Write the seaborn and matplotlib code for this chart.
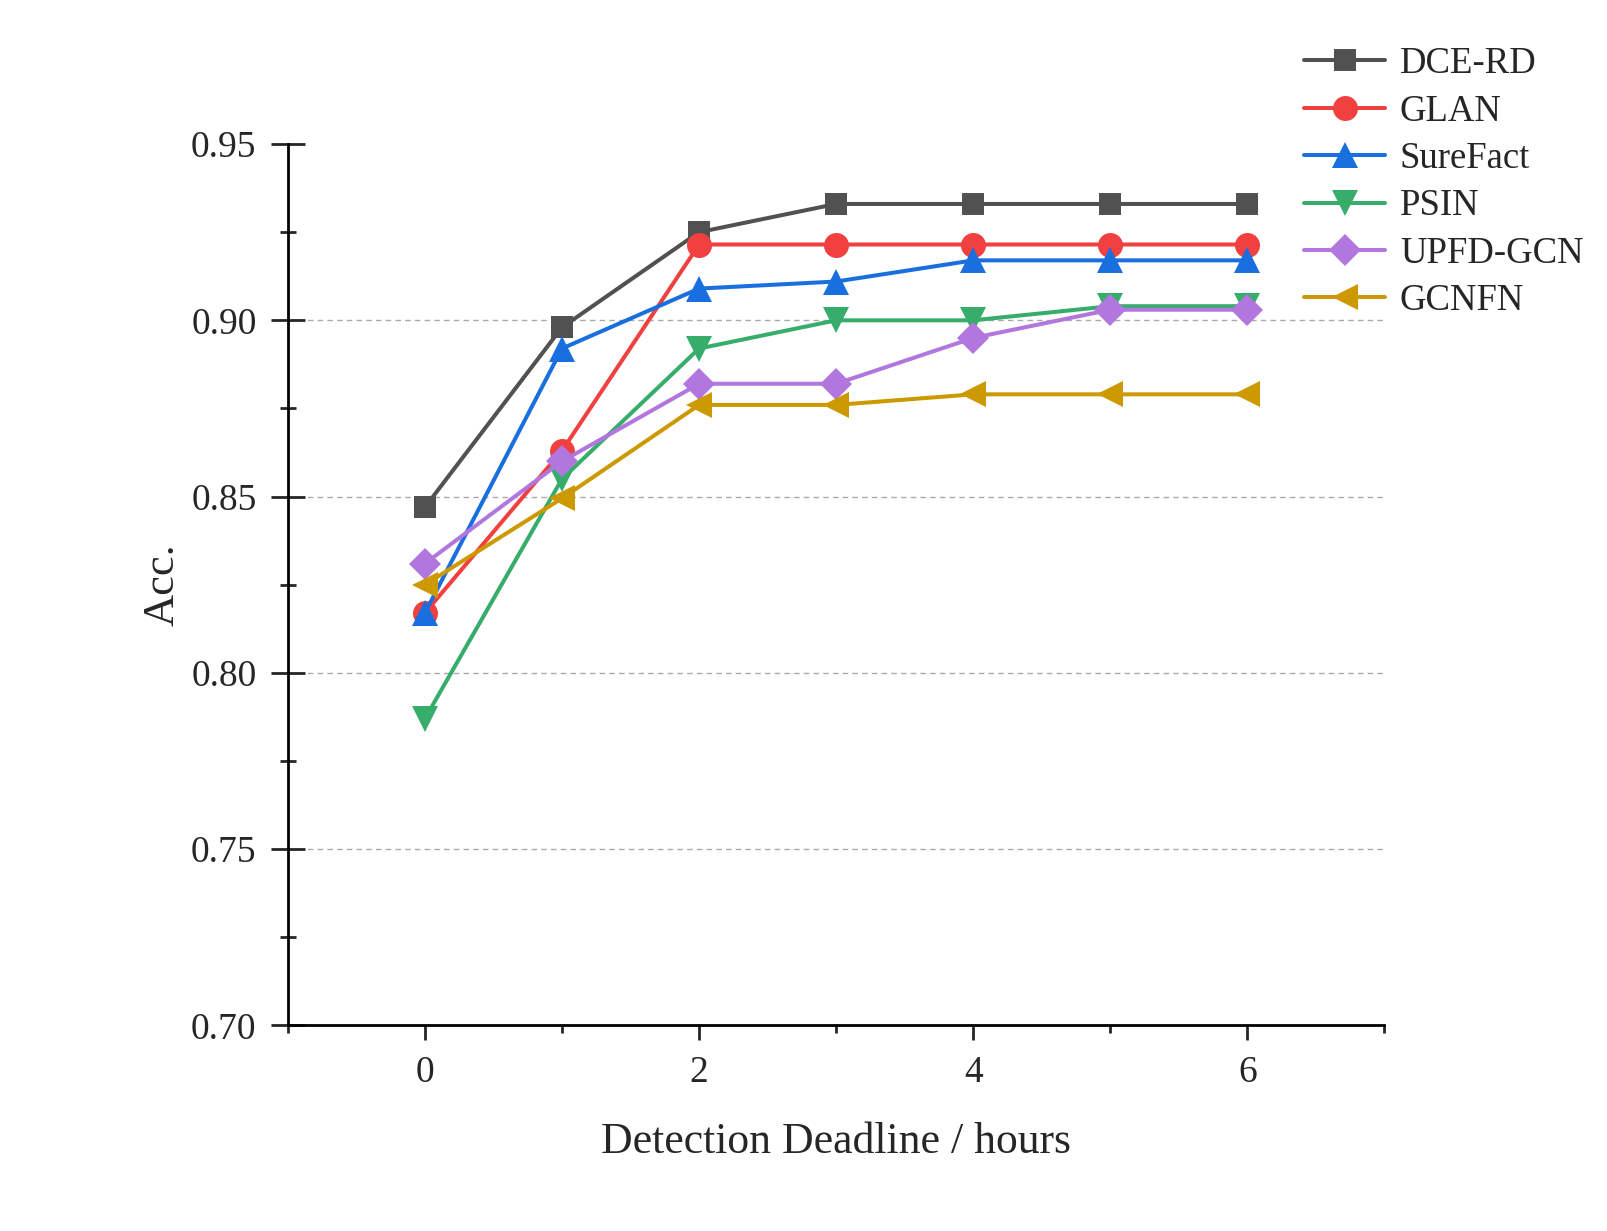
import numpy as np
import pandas as pd
import matplotlib
matplotlib.use("Agg")
import matplotlib.pyplot as plt
import seaborn as sns
from matplotlib.ticker import MultipleLocator

hours = [0, 1, 2, 3, 4, 5, 6]
dce_rd = [0.847, 0.898, 0.925, 0.933, 0.933, 0.933, 0.933]
glan = [0.817, 0.863, 0.9215, 0.9215, 0.9215, 0.9215, 0.9215]
surefact = [0.817, 0.892, 0.909, 0.911, 0.917, 0.917, 0.917]
psin = [0.787, 0.855, 0.892, 0.900, 0.900, 0.904, 0.904]
upfd_gcn = [0.831, 0.860, 0.882, 0.882, 0.895, 0.903, 0.903]
gcnfn = [0.825, 0.8495, 0.876, 0.876, 0.879, 0.879, 0.879]

series_names = ["DCE-RD", "GLAN", "SureFact", "PSIN", "UPFD-GCN", "GCNFN"]
series_vals = [dce_rd, glan, surefact, psin, upfd_gcn, gcnfn]
colors = ["#515151", "#F14040", "#1A6FDF", "#37AD6B", "#B177DE", "#CC9900"]
markers = ["s", "o", "^", "v", "D", "<"]
msizes = [16, 18, 19, 19, 16, 19]
grid_levels = [0.75, 0.80, 0.85, 0.90]

sns.set_style("ticks")
plt.rcParams["font.family"] = ["Liberation Serif", "DejaVu Serif"]

fig = plt.figure(figsize=(16.08, 12.31), dpi=100)
ax = fig.add_axes([0.179, 0.167, 0.682, 0.716])

ax.hlines(grid_levels, -1, 7, colors="#AAAAAA", linestyles=(0, (4, 3)), linewidth=1.0, zorder=0.5)

for name, vals, c, m, ms in zip(series_names, series_vals, colors, markers, msizes):
    sns.lineplot(x=hours, y=vals, ax=ax, color=c, marker=m, markersize=ms,
                 markeredgecolor=c, markeredgewidth=0, linewidth=2.9, label=name)

ax.set_xlim(-1, 7)
ax.set_ylim(0.70, 0.95)
ax.xaxis.set_major_locator(MultipleLocator(2))
ax.xaxis.set_minor_locator(MultipleLocator(1))
ax.yaxis.set_major_locator(MultipleLocator(0.05))
ax.yaxis.set_minor_locator(MultipleLocator(0.025))
ax.yaxis.set_major_formatter(matplotlib.ticker.FormatStrFormatter("%.2f"))
ax.grid(False)

for side in ["top", "right"]:
    ax.spines[side].set_visible(False)
for side in ["left", "bottom"]:
    ax.spines[side].set_linewidth(2.0)
    ax.spines[side].set_color("black")

ax.tick_params(axis="y", which="major", direction="inout", length=25, width=2, labelsize=27, pad=10)
ax.tick_params(axis="y", which="minor", direction="inout", length=12, width=2)
ax.tick_params(axis="x", which="major", direction="out", length=11, width=2, labelsize=27, pad=11)
ax.tick_params(axis="x", which="minor", direction="out", length=6, width=2)

ax.set_xlabel("Detection Deadline / hours", fontsize=31.5, labelpad=23)
ax.set_ylabel("Acc.", fontsize=32, labelpad=6)

leg = ax.legend(loc="upper left", bbox_to_anchor=(0.811, 0.962), bbox_transform=fig.transFigure,
                frameon=False, fontsize=26.5, handlelength=2.2, handletextpad=0.4,
                labelspacing=0.35, borderpad=0, borderaxespad=0)

fig.savefig("out.png", dpi=100)
